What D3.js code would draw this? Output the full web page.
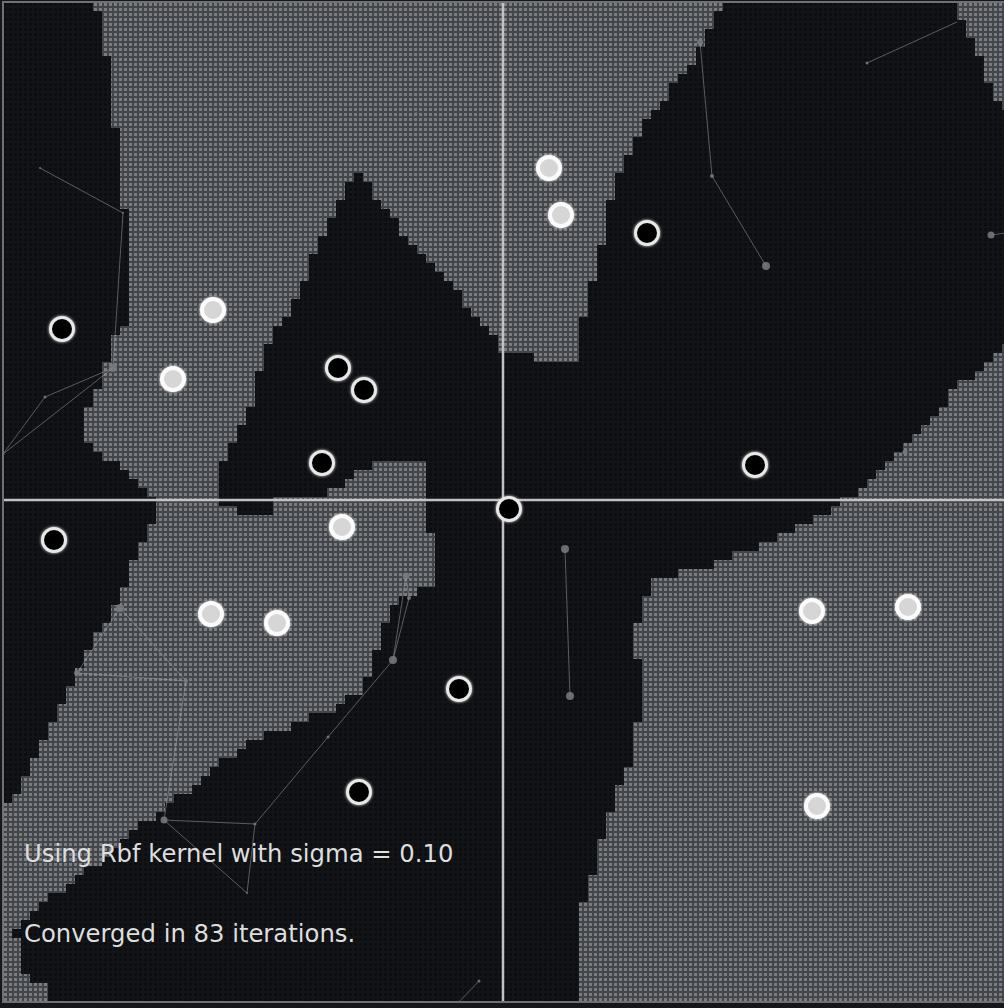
<!DOCTYPE html>
<html lang="en">
<head>
<meta charset="utf-8">
<title>SVM - Rbf kernel decision field</title>
<script src="https://d3js.org/d3.v7.min.js"></script>
<style>
  html, body { margin: 0; padding: 0; background: #15171a; }
  svg { display: block; }
</style>
</head>
<body>
<div id="chart"></div>
<script>
// training points, data units (both axes run -5 .. 5)
const positives = [
  [0.46, 3.32], [0.58, 2.85], [-2.90, 1.90], [-3.30, 1.21], [-1.61, -0.27],
  [-2.92, -1.14], [-2.26, -1.23], [3.09, -1.11], [4.05, -1.07], [3.14, -3.06]
];
const negatives = [
  [1.44, 2.67], [-4.41, 1.71], [-1.65, 1.32], [-1.39, 1.10], [-1.81, 0.37],
  [2.52, 0.35], [0.06, -0.09], [-4.49, -0.40], [-0.44, -1.89], [-1.44, -2.92]
];

// regions classified positive (light field)
const regionLeft = [
  [-4.08, 5.1], [2.27, 5.1], [1.97, 4.50], [1.64, 4.07], [1.37, 3.67], [1.14, 3.27],
  [1.04, 2.83], [0.94, 2.33], [0.84, 2.00], [0.77, 1.67], [0.74, 1.37], [0.30, 1.37],
  [0.30, 1.50], [0.00, 1.50], [-0.10, 1.65], [-0.26, 1.83], [-0.53, 2.17], [-0.86, 2.50],
  [-1.20, 2.93], [-1.46, 3.28], [-1.70, 2.87], [-1.86, 2.50], [-2.03, 2.13], [-2.20, 1.80],
  [-2.36, 1.50], [-2.46, 1.23], [-2.56, 0.83], [-2.70, 0.57], [-2.83, 0.33], [-2.90, 0.10],
  [-2.78, -0.05], [-2.68, -0.12], [-2.35, -0.12], [-2.28, 0.02], [-1.70, 0.08], [-1.53, 0.22],
  [-1.30, 0.37], [-0.78, 0.37], [-0.75, 0.30], [-0.76, -0.33], [-0.70, -0.40], [-0.70, -0.85],
  [-0.96, -0.97], [-1.15, -1.12], [-1.23, -1.35], [-1.31, -1.65], [-1.38, -1.85], [-1.58, -2.03],
  [-1.83, -2.15], [-2.16, -2.27], [-2.50, -2.40], [-2.83, -2.63], [-3.16, -2.90], [-3.43, -3.12],
  [-3.70, -3.28], [-4.03, -3.60], [-4.36, -3.85], [-4.70, -4.12], [-4.93, -4.32], [-4.85, -4.35],
  [-4.85, -4.75], [-4.68, -4.82], [-4.53, -4.90], [-4.53, -5.1], [-5.1, -5.1], [-5.1, -3.30],
  [-4.86, -2.90], [-4.70, -2.57], [-4.53, -2.23], [-4.36, -1.90], [-4.20, -1.57], [-4.03, -1.30],
  [-3.86, -1.00], [-3.70, -0.63], [-3.60, -0.40], [-3.46, -0.10], [-3.51, 0.05], [-3.70, 0.23],
  [-3.93, 0.40], [-4.13, 0.57], [-4.23, 0.67], [-4.23, 0.77], [-4.13, 1.00], [-4.03, 1.20],
  [-3.93, 1.47], [-3.88, 1.62], [-3.70, 1.80], [-3.71, 2.33], [-3.76, 2.67], [-3.80, 3.00],
  [-3.86, 3.60], [-3.93, 4.17], [-3.98, 4.50], [-4.03, 4.70]
];
const regionCorner = [
  [4.47, 5.1], [5.1, 5.1], [5.1, 3.85], [4.94, 4.00], [4.80, 4.33], [4.64, 4.67]
];
const regionRight = [
  [5.1, 1.57], [4.80, 1.33], [4.57, 1.17], [4.30, 0.83], [3.97, 0.50], [3.64, 0.17],
  [3.44, 0.00], [3.14, -0.17], [2.80, -0.33], [2.47, -0.50], [2.14, -0.63], [1.74, -0.73],
  [1.54, -0.80], [1.44, -0.93], [1.34, -1.23], [1.27, -1.40], [1.34, -1.53], [1.37, -1.83],
  [1.34, -2.33], [1.27, -2.60], [1.17, -2.83], [1.07, -3.17], [0.97, -3.47], [0.87, -3.83],
  [0.80, -4.00], [0.79, -5.1], [5.1, -5.1]
];

// faint link overlay: [x, y, radius] and pairs of node indices
const linkNodes = [
  [-4.63, 3.32, 1], [-3.80, 2.87, 1], [-3.90, 1.32, 4], [-4.58, 1.03, 1.5], [-5.00, 0.46, 1.5],
  [1.97, 4.58, 3], [2.09, 3.24, 2], [2.63, 2.34, 4], [3.64, 4.37, 1.5], [4.54, 4.78, 0],
  [4.88, 2.65, 3.5], [5.03, 2.67, 0], [4.02, 0.48, 2.5], [-0.87, 3.87, 1], [0.51, 3.87, 1],
  [0.62, -0.49, 4], [0.67, -1.96, 4], [-3.83, -1.08, 4], [-4.26, -1.73, 3], [-3.17, -1.81, 2],
  [-3.39, -3.20, 3.5], [-2.48, -3.24, 1.5], [-2.56, -3.93, 1], [-1.75, -2.37, 1.5], [-1.10, -1.60, 4],
  [-0.97, -0.76, 3.5], [-0.94, -0.98, 2], [-0.24, -4.81, 1.5], [-0.48, -5.06, 0]
];
const linkEdges = [
  [0, 1], [1, 2], [2, 3], [3, 4], [2, 4], [5, 6], [6, 7], [8, 9], [10, 11], [15, 16],
  [17, 18], [18, 19], [17, 19], [19, 20], [20, 21], [20, 22], [21, 22], [21, 23], [23, 24],
  [24, 25], [24, 26], [25, 26], [27, 28]
];

const kernelLabel = "Using Rbf kernel with sigma = 0.10";
const iterLabel = "Converged in 83 iterations.";

const width = 1004, height = 1008;
const plot = { left: 3, top: 2, right: 1004, bottom: 1002 };

const x = d3.scaleLinear().domain([-5, 5]).range([3, 1003]);
const y = d3.scaleLinear().domain([-5, 5]).range([1000, 0]);

const svg = d3.select("#chart").append("svg")
  .attr("width", width)
  .attr("height", height);

const defs = svg.append("defs");

// light cells: bright square inside a darker grid line
const gray = defs.append("pattern").attr("id", "grayGrid")
  .attr("patternUnits", "userSpaceOnUse")
  .attr("x", plot.left).attr("y", plot.top).attr("width", 5).attr("height", 5);
gray.append("rect").attr("width", 5).attr("height", 5).attr("fill", "#434549");
gray.append("rect").attr("x", 1).attr("y", 1).attr("width", 3).attr("height", 3).attr("fill", "#7a7c80");

const dark = defs.append("pattern").attr("id", "darkGrid")
  .attr("patternUnits", "userSpaceOnUse")
  .attr("x", plot.left).attr("y", plot.top).attr("width", 5).attr("height", 5);
dark.append("rect").attr("width", 5).attr("height", 5).attr("fill", "#121418");
dark.append("rect").attr("x", 1).attr("y", 1).attr("width", 3).attr("height", 3).attr("fill", "#0b0d10");

defs.append("clipPath").attr("id", "plotClip")
  .append("rect")
  .attr("x", plot.left).attr("y", plot.top)
  .attr("width", plot.right - plot.left).attr("height", plot.bottom - plot.top);

const glow = defs.append("filter").attr("id", "glow")
  .attr("x", "-50%").attr("y", "-50%").attr("width", "200%").attr("height", "200%");
glow.append("feGaussianBlur").attr("in", "SourceGraphic").attr("stdDeviation", 1.6).attr("result", "b");
const merge = glow.append("feMerge");
merge.append("feMergeNode").attr("in", "b");
merge.append("feMergeNode").attr("in", "SourceGraphic");

const soft = defs.append("filter").attr("id", "soft");
soft.append("feGaussianBlur").attr("stdDeviation", 0.5);

const field = svg.append("g").attr("clip-path", "url(#plotClip)");

field.append("rect")
  .attr("x", plot.left).attr("y", plot.top)
  .attr("width", plot.right - plot.left).attr("height", plot.bottom - plot.top)
  .attr("fill", "url(#darkGrid)");

// rasterise the positive regions into blocky cells, like the sampled decision grid
const regions = [regionLeft, regionCorner, regionRight];
const cell = 9;
let cells = "";
for (let py = plot.top; py < plot.bottom; py += cell) {
  let runStart = null;
  for (let px = plot.left; px < plot.right + cell; px += cell) {
    const p = [x.invert(px + cell / 2), y.invert(py + cell / 2)];
    const inside = px < plot.right && regions.some(r => d3.polygonContains(r, p));
    if (inside && runStart === null) runStart = px;
    if (!inside && runStart !== null) {
      cells += `M${runStart},${py}h${px - runStart}v${cell}h${runStart - px}Z`;
      runStart = null;
    }
  }
}
field.append("path").attr("d", cells).attr("fill", "url(#grayGrid)").attr("filter", "url(#soft)");

// link overlay
field.append("g")
  .selectAll("line")
  .data(linkEdges)
  .join("line")
  .attr("x1", d => x(linkNodes[d[0]][0]))
  .attr("y1", d => y(linkNodes[d[0]][1]))
  .attr("x2", d => x(linkNodes[d[1]][0]))
  .attr("y2", d => y(linkNodes[d[1]][1]))
  .attr("stroke", "#a4a6aa")
  .attr("stroke-opacity", 0.5)
  .attr("stroke-width", 1);

field.append("g")
  .selectAll("circle")
  .data(linkNodes.filter(d => d[2] > 0))
  .join("circle")
  .attr("cx", d => x(d[0]))
  .attr("cy", d => y(d[1]))
  .attr("r", d => d[2])
  .attr("fill", "#7a7c80")
  .attr("fill-opacity", 0.85);

// axes through the origin
field.append("line")
  .attr("x1", x(0)).attr("x2", x(0))
  .attr("y1", plot.top).attr("y2", plot.bottom)
  .attr("stroke", "#c2c2c2").attr("stroke-width", 2.5);
field.append("line")
  .attr("x1", plot.left).attr("x2", plot.right)
  .attr("y1", y(0)).attr("y2", y(0))
  .attr("stroke", "#c2c2c2").attr("stroke-width", 2.5);

// training points
const pts = field.append("g").attr("filter", "url(#glow)");
pts.selectAll(".pos")
  .data(positives)
  .join("circle")
  .attr("class", "pos")
  .attr("cx", d => x(d[0]))
  .attr("cy", d => y(d[1]))
  .attr("r", 11)
  .attr("fill", "#d6d6d6")
  .attr("stroke", "#fbfbfb")
  .attr("stroke-width", 4);
pts.selectAll(".neg")
  .data(negatives)
  .join("circle")
  .attr("class", "neg")
  .attr("cx", d => x(d[0]))
  .attr("cy", d => y(d[1]))
  .attr("r", 11.5)
  .attr("fill", "#040506")
  .attr("stroke", "#e8e8e8")
  .attr("stroke-width", 3);

// status text
const txt = svg.append("g")
  .attr("font-family", "'DejaVu Sans', Verdana, sans-serif")
  .attr("font-size", 24.3)
  .attr("fill", "#dedede");
txt.append("text").attr("x", 24).attr("y", 862).text(kernelLabel);
txt.append("text").attr("x", 24).attr("y", 942).text(iterLabel);

// frame
svg.append("rect")
  .attr("x", plot.left).attr("y", plot.top)
  .attr("width", 1020).attr("height", plot.bottom - plot.top)
  .attr("fill", "none")
  .attr("stroke", "#6f7072")
  .attr("stroke-width", 2);
</script>
</body>
</html>
